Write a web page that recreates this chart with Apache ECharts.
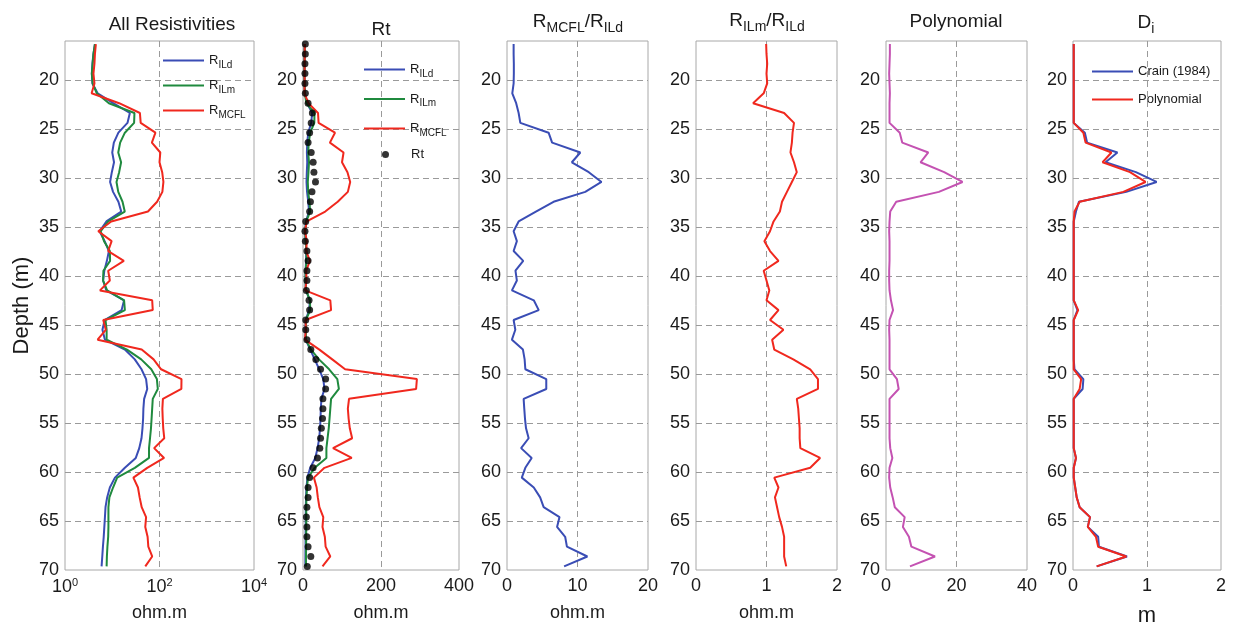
<!DOCTYPE html>
<html>
<head>
<meta charset="utf-8">
<script src="https://cdn.jsdelivr.net/npm/echarts@6/dist/echarts.min.js"></script>
<style>
html, body { margin: 0; padding: 0; background: #fff; }
#main { width: 1234px; height: 627px; }
</style>
</head>
<body>
<div id="main"></div>
<script>
// depth of each log sample (m)
const depth = [16.31, 17.32, 18.32, 19.33, 20.33, 21.34, 22.35, 23.35, 24.36, 25.36,
  26.37, 27.38, 28.38, 29.39, 30.39, 31.40, 32.41, 33.41, 34.42, 35.42,
  36.43, 37.44, 38.44, 39.45, 40.45, 41.46, 42.47, 43.47, 44.48, 45.48,
  46.49, 47.50, 48.50, 49.51, 50.51, 51.52, 52.53, 53.53, 54.54, 55.54,
  56.55, 57.56, 58.56, 59.57, 60.57, 61.58, 62.59, 63.59, 64.60, 65.60,
  66.61, 67.62, 68.62, 69.63];

// resistivity logs (ohm.m)
const rILd = [4.3, 4.0, 3.8, 3.7, 3.8, 4.9, 10.5, 23.6, 21, 13.5,
  10.8, 10, 10.9, 9.8, 9.0, 10.4, 13.5, 15.5, 7.5, 5.4,
  6.9, 8.5, 7.7, 6.8, 6.4, 7.5, 17.8, 15.8, 6.9, 6.2,
  7.0, 18.5, 30, 41.6, 52, 55, 47.3, 45.6, 45, 43.6,
  41.6, 37.3, 31.5, 18.5, 11.4, 8.9, 7.8, 7.2, 7.0, 6.8,
  6.6, 6.35, 6.15, 5.95];
const rILm = [4.3, 4.0, 3.85, 3.7, 3.85, 4.7, 8.5, 29.5, 29, 18.5,
  14.7, 13.4, 15.4, 14, 12.3, 13.4, 16.5, 18.4, 8.2, 5.7,
  6.7, 8.9, 9.0, 6.5, 6.4, 7.8, 17.8, 18.5, 7.2, 7.6,
  7.6, 20.5, 41, 67, 88, 92, 72, 70, 68, 66,
  63, 60, 60, 30, 12.7, 10.4, 8.7, 8.3, 8.3, 8.3,
  8.2, 7.9, 7.7, 7.6];
const rMCFL = [4.5, 4.3, 4.2, 4.0, 4.2, 3.66, 14, 38.5, 40, 82,
  69, 104, 100, 114, 121, 115, 89, 57, 9.5, 5.06,
  9.7, 8.2, 17.6, 8.2, 8.9, 5.5, 70, 72, 6.45, 7.3,
  4.9, 42, 75, 108, 292, 290, 118, 115, 117, 120,
  126, 77, 125, 55, 28, 35, 38, 42, 52, 50,
  56, 58, 70, 50];
const rt = [6, 6, 5, 5, 5, 6, 13, 24, 21, 17,
  13, 21, 26, 28, 32, 23, 19, 17, 7, 5,
  6, 10, 13, 10, 10, 8.6, 15.5, 17, 7, 7,
  10, 20, 33, 45, 58, 58, 51, 51, 50, 47,
  45, 43, 37, 26, 17, 13, 13, 10, 8.6, 10,
  10, 13, 20, 11];

// ratios
const ratioMcflIld = [0.94, 0.94, 0.97, 0.97, 0.94, 0.75, 1.3, 1.65, 1.89, 5.9,
  6.4, 10.4, 9.2, 11.6, 13.4, 11.1, 6.6, 4.1, 1.65, 0.94,
  1.4, 0.94, 2.3, 1.2, 1.4, 0.7, 3.8, 4.5, 0.94, 1.18,
  0.7, 2.26, 2.5, 2.6, 5.57, 5.57, 2.36, 2.45, 2.55, 2.7,
  3.07, 2.0, 3.5, 2.6, 2.1, 3.8, 4.7, 5.2, 7.45, 7.1,
  8.25, 8.5, 11.4, 8.1];
const ratioIlmIld = [0.995, 1.0, 1.01, 1.0, 1.01, 0.96, 0.81, 1.25, 1.39, 1.37,
  1.36, 1.34, 1.39, 1.43, 1.36, 1.29, 1.22, 1.19, 1.1, 1.05,
  0.97, 1.05, 1.17, 0.96, 1.0, 1.04, 1.0, 1.17, 1.05, 1.24,
  1.08, 1.11, 1.38, 1.62, 1.73, 1.73, 1.43, 1.45, 1.46, 1.47,
  1.47, 1.48, 1.76, 1.62, 1.11, 1.17, 1.12, 1.15, 1.18, 1.22,
  1.25, 1.25, 1.25, 1.28];

// polynomial index
const poly = [1.1, 1.1, 1.0, 0.9, 1.0, 1.1, 1.0, 1.0, 1.0, 3.9,
  4.6, 12, 9.8, 16.5, 21.7, 15, 2.9, 1.2, 1.0, 0.9,
  1.0, 1.0, 1.0, 0.9, 0.9, 1.0, 1.4, 2.0, 1.0, 0.9,
  1.0, 1.0, 1.0, 1.0, 3.1, 3.6, 1.0, 1.0, 1.0, 1.0,
  1.0, 1.2, 1.8, 1.0, 0.9, 1.2, 1.9, 2.5, 5.3, 4.8,
  6.5, 7.2, 13.9, 6.8];

// invasion diameter Di (m)
const diCrain = [0.01, 0.01, 0.01, 0.01, 0.01, 0.01, 0.01, 0.01, 0.01, 0.16,
  0.19, 0.6, 0.44, 0.85, 1.13, 0.72, 0.08, 0.04, 0.01, 0.01,
  0.01, 0.01, 0.01, 0.01, 0.01, 0.01, 0.01, 0.06, 0.01, 0.01,
  0.01, 0.01, 0.01, 0.02, 0.14, 0.13, 0.01, 0.01, 0.01, 0.01,
  0.01, 0.01, 0.04, 0.01, 0.01, 0.03, 0.05, 0.09, 0.23, 0.2,
  0.34, 0.35, 0.73, 0.32];
const diPoly = [0.01, 0.01, 0.01, 0.01, 0.01, 0.01, 0.01, 0.01, 0.01, 0.14,
  0.17, 0.52, 0.40, 0.77, 0.98, 0.68, 0.09, 0.02, 0.01, 0.01,
  0.01, 0.01, 0.01, 0.01, 0.01, 0.01, 0.01, 0.07, 0.01, 0.01,
  0.01, 0.01, 0.01, 0.01, 0.11, 0.09, 0.01, 0.01, 0.01, 0.01,
  0.01, 0.01, 0.04, 0.01, 0.01, 0.03, 0.05, 0.09, 0.23, 0.2,
  0.31, 0.34, 0.72, 0.32];

const FONT = '"Liberation Sans", Arial, Helvetica, sans-serif';
const INK = '#1a1a1a';
const BLUE = '#3a4db5';
const GREEN = '#1f8a3e';
const RED = '#f0281e';
const MAGENTA = '#c452b2';

// panel boxes [left, right] in px
const boxes = [[65, 254], [303, 459], [507, 648], [696, 837], [886, 1027], [1073, 1221]];

const gridLine = { show: true, showMinLine: false, showMaxLine: false,
  lineStyle: { color: '#9a9a9a', type: [6, 4], width: 1 } };

const chart = echarts.init(document.getElementById('main'));

const pts = arr => arr.map((v, i) => [v, depth[i]]);

function line(name, arr, color, gi) {
  return { type: 'line', name: name, xAxisIndex: gi, yAxisIndex: gi, data: pts(arr),
    symbol: 'none', lineStyle: { color: color, width: 2 }, itemStyle: { color: color },
    clip: true, z: 3 };
}

function depthAxis(i) {
  return {
    type: 'value', gridIndex: i, inverse: true, min: 16, max: 70, splitNumber: 11,
    axisLine: { show: false }, axisTick: { show: false },
    axisLabel: { fontSize: 18, color: INK, fontFamily: FONT, margin: 6,
      formatter: v => (v % 5 === 0 ? String(v) : '') },
    splitLine: gridLine,
    name: i === 0 ? 'Depth (m)' : '', nameLocation: 'middle', nameGap: 32,
    nameTextStyle: { fontSize: 22, color: INK, fontFamily: FONT }
  };
}

function valAxis(i, max, interval, name, nameSize, nameGap) {
  return {
    type: 'value', gridIndex: i, min: 0, max: max, interval: interval,
    axisLine: { show: false }, axisTick: { show: false },
    axisLabel: { fontSize: 18, color: INK, fontFamily: FONT, margin: 7 },
    splitLine: gridLine,
    name: name, nameLocation: 'middle', nameGap: nameGap || 34,
    nameTextStyle: { fontSize: nameSize || 18, color: INK, fontFamily: FONT }
  };
}

const logAxis = {
  type: 'log', logBase: 100, gridIndex: 0, min: 1, max: 10000,
  axisLine: { show: false }, axisTick: { show: false },
  axisLabel: { color: INK, fontFamily: FONT, margin: 7,
    formatter: v => '{b|10}{e|' + Math.round(Math.log10(v)) + '}',
    rich: { b: { fontSize: 18, fontFamily: FONT, color: INK },
            e: { fontSize: 11, fontFamily: FONT, color: INK, padding: [0, 0, 10, 0] } } },
  splitLine: gridLine,
  name: 'ohm.m', nameLocation: 'middle', nameGap: 34,
  nameTextStyle: { fontSize: 18, color: INK, fontFamily: FONT }
};

const legendRich = {
  r: { fontSize: 13, fontFamily: FONT, color: INK },
  s: { fontSize: 10, fontFamily: FONT, color: INK, padding: [9, 0, 0, 0] }
};
const legendLabel = {
  'R_ILd': '{r|R}{s|ILd}', 'R_ILm': '{r|R}{s|ILm}', 'R_MCFL': '{r|R}{s|MCFL}',
  'Rt': '{r|Rt}', 'Crain (1984)': '{r|Crain (1984)}', 'Polynomial': '{r|Polynomial}'
};
function legend(names, left, top, gap, icon) {
  return { data: names, left: left - 5, top: top - 5, orient: 'vertical',
    icon: icon || 'rect', itemWidth: 41, itemHeight: icon ? 7 : 2, itemGap: gap,
    selectedMode: false, formatter: n => legendLabel[n],
    textStyle: { rich: legendRich } };
}

const titleRich = {
  m: { fontSize: 19, fontFamily: FONT, color: INK },
  s: { fontSize: 14, fontFamily: FONT, color: INK, padding: [12, 0, 0, 0] }
};
function title(text, cx, top) {
  return { text: text, left: cx, top: top, textAlign: 'center', padding: 0,
    textStyle: { fontSize: 19, fontWeight: 'normal', color: INK, fontFamily: FONT, rich: titleRich } };
}

const option = {
  backgroundColor: '#fff',
  animation: false,
  title: [
    title('All Resistivities', 172, 15),
    title('Rt', 381, 20),
    title('{m|R}{s|MCFL}{m|/R}{s|ILd}', 578, 9),
    title('{m|R}{s|ILm}{m|/R}{s|ILd}', 767, 8),
    title('Polynomial', 956, 12),
    title('{m|D}{s|i}', 1146, 10)
  ],
  legend: [
    legend(['R_ILd', 'R_ILm', 'R_MCFL'], 163, 54, 9),
    legend(['R_ILd', 'R_ILm', 'R_MCFL'], 364, 63, 13.5),
    legend(['Rt'], 382, 148, 0, 'circle'),
    legend(['Crain (1984)', 'Polynomial'], 1092, 65, 15)
  ],
  grid: boxes.map(b => ({ left: b[0], width: b[1] - b[0], top: 41, height: 529,
    outerBoundsMode: 'none', containLabel: false,
    show: true, borderColor: '#a8a8a8', borderWidth: 1 })),
  xAxis: [
    logAxis,
    valAxis(1, 400, 200, 'ohm.m'),
    valAxis(2, 20, 10, 'ohm.m'),
    valAxis(3, 2, 1, 'ohm.m'),
    valAxis(4, 40, 20, ''),
    valAxis(5, 2, 1, 'm', 22, 35)
  ],
  yAxis: [0, 1, 2, 3, 4, 5].map(depthAxis),
  series: [
    line('R_ILd', rILd, BLUE, 0),
    line('R_ILm', rILm, GREEN, 0),
    line('R_MCFL', rMCFL, RED, 0),
    line('R_ILd', rILd, BLUE, 1),
    line('R_ILm', rILm, GREEN, 1),
    line('R_MCFL', rMCFL, RED, 1),
    { type: 'scatter', name: 'Rt', xAxisIndex: 1, yAxisIndex: 1, data: pts(rt),
      symbol: 'circle', symbolSize: 7, itemStyle: { color: '#000' }, z: 4 },
    line('RMCFL/RILd', ratioMcflIld, BLUE, 2),
    line('RILm/RILd', ratioIlmIld, RED, 3),
    line('Polynomial index', poly, MAGENTA, 4),
    line('Crain (1984)', diCrain, BLUE, 5),
    line('Polynomial', diPoly, RED, 5)
  ]
};

chart.setOption(option);
</script>
</body>
</html>
